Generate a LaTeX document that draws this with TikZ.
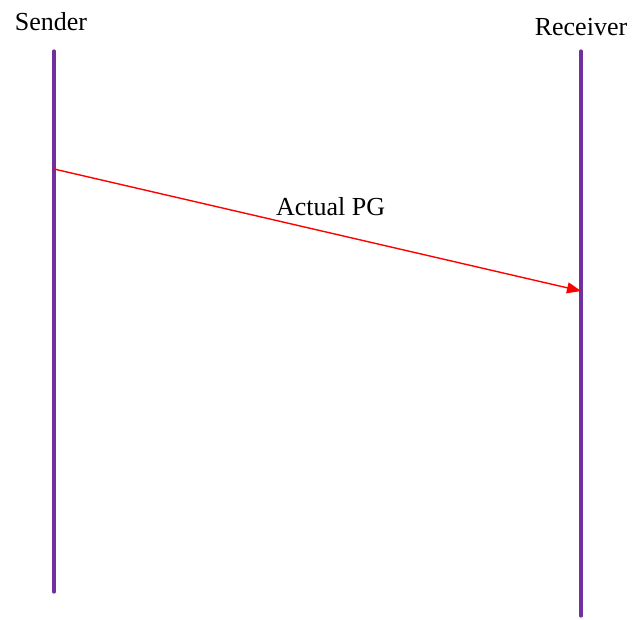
\documentclass[tikz,border=0pt]{standalone}
\usepackage{fontspec}
\setmainfont{Liberation Serif}
\usetikzlibrary{arrows.meta}
\definecolor{lifeline}{RGB}{112,48,160}
\begin{document}
\begin{tikzpicture}[x=1pt, y=-1pt, line cap = round,
  lifeline/.style = {draw=lifeline, line width=3.2pt},
  msg/.style = {draw=red, line width=1.4pt, -{Triangle[length=14pt,width=11pt]}},
  lbl/.style = {font=\fontsize{26}{30}\selectfont, inner sep=0pt}]
\useasboundingbox (0,0) rectangle (643,619);
\node[lbl] (S) at (51,22) {Sender};
\node[lbl] (R) at (581,27) {Receiver};
\coordinate (S0) at (54,51);
\coordinate (S1) at (54,592);
\coordinate (R0) at (581,51);
\coordinate (R1) at (581,616);
\draw[lifeline] (S0) -- (S1);
\draw[lifeline] (R0) -- (R1);

\coordinate (A) at (54,169);
\coordinate (B) at (581,291);
\draw[msg] (A) -- (B) node[lbl, pos=0.525, above=17pt] {Actual PG};
\end{tikzpicture}
\end{document}
